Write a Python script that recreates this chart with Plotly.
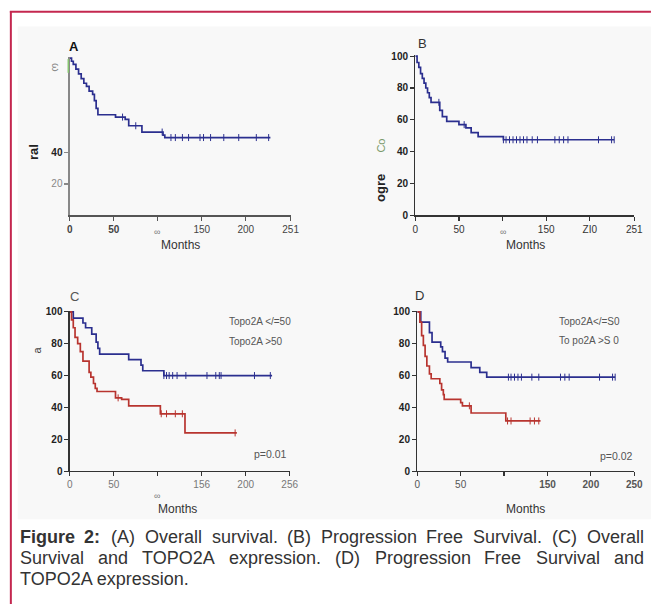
import plotly.graph_objects as go

W, H = 657, 605
FONT = "Liberation Sans, Arial, sans-serif"
BLUE = "#2b2f8f"
RED = "#b8342f"

# ---------------- data (months, survival %) ----------------
A_time = [0, 2, 4, 7, 10, 13, 16, 19, 22, 26, 28, 30, 32, 52, 63, 67, 82, 106, 108]
A_surv = [100, 98, 96, 93, 90, 87, 84, 82, 79, 77, 73, 68, 64, 62.5, 61, 57, 53, 51, 49.5]
A_end = 228
A_cens = [60, 75, 105, 115, 120, 128, 135, 148, 152, 160, 175, 192, 212, 226]

B_time = [0, 2, 4, 6, 8, 10, 12, 14, 16, 18, 28, 31, 36, 50, 58, 64, 72, 101]
B_surv = [100, 96, 93, 89, 86, 83, 80, 77, 74, 71, 66, 62, 59, 57, 55, 52, 49.5, 47.5]
B_end = 228
B_cens = [27, 56, 101, 104, 108, 112, 116, 120, 124, 128, 134, 140, 160, 165, 170, 175, 210, 225, 228]

C_low_time = [0, 4, 15, 18, 25, 30, 32, 34, 67, 81, 83, 107]
C_low_surv = [100, 96, 93, 90, 86, 81, 77, 73.5, 70, 66.5, 63, 60]
C_low_end = 230
C_low_cens = [107, 110, 113, 117, 122, 132, 156, 166, 170, 172, 210, 228]

C_high_time = [0, 2, 4, 6, 9, 12, 15, 22, 24, 27, 29, 31, 52, 59, 67, 103, 131]
C_high_surv = [100, 95, 90, 84, 80, 75, 69, 62, 59, 55, 52, 50, 46, 45, 41, 36, 24]
C_high_end = 190
C_high_cens = [55, 104, 110, 120, 128, 188]

D_low_time = [0, 4, 14, 17, 27, 29, 32, 35, 62, 72, 80]
D_low_surv = [100, 93.5, 87, 81, 78, 75, 71, 68.5, 65, 62, 59]
D_low_end = 228
D_low_cens = [105, 108, 112, 116, 120, 132, 140, 165, 170, 175, 210, 225, 228]

D_high_time = [0, 3, 5, 7, 9, 11, 14, 16, 26, 28, 30, 31, 50, 52, 62, 102]
D_high_surv = [100, 93.5, 85, 79, 72, 66, 61, 58, 55, 51, 48, 45, 43, 41, 36.5, 31.5]
D_high_end = 142
D_high_cens = [60, 104, 108, 130, 135, 140]

A_xticks = ["<b>0</b>", "<b>50</b>", "", "150", "200", "251"]
B_xticks = ["0", "50", "", "150", "ZI0", "251"]
C_xticks = ["0", "50", "", "156", "200", "256"]
D_xticks = ["0", "50", "", "<b>150</b>", "<b>200</b>", "<b>250</b>"]
AB_xvals = [0, 50, 100, 150, 200, 251]
CD_xvals = [0, 50, 100, 150, 200, 250]
Y_vals = [0, 20, 40, 60, 80, 100]

C_legend = ["Topo2A </=50", "Topo2A >50"]
D_legend = ["Topo2A</=S0", "To po2A >S 0"]
C_p = "p=0.01"
D_p = "p=0.02"

caption_lines = [
    [("Figure", True), ("2:", True), ("(A)", False), ("Overall", False), ("survival.", False),
     ("(B)", False), ("Progression", False), ("Free", False), ("Survival.", False),
     ("(C)", False), ("Overall", False)],
    [("Survival", False), ("and", False), ("TOPO2A", False), ("expression.", False),
     ("(D)", False), ("Progression", False), ("Free", False), ("Survival", False), ("and", False)],
    [("TOPO2A expression.", False)],
]

# ---------------- helpers ----------------
def step_xy(times, surv, end):
    return times + [end], surv + [surv[-1]]

def value_at(times, surv, t):
    v = surv[0]
    for ti, si in zip(times, surv):
        if ti <= t:
            v = si
    return v

def px(x):
    return x / W

def py(y):
    return 1 - y / H

fig = go.Figure()

def add_curve(times, surv, end, cens, color, ax):
    x, y = step_xy(times, surv, end)
    fig.add_trace(go.Scatter(x=x, y=y, mode="lines", line=dict(color=color, width=1.7, shape="hv"),
                             xaxis="x" + ax, yaxis="y" + ax, showlegend=False, hoverinfo="skip"))
    fig.add_trace(go.Scatter(x=cens, y=[value_at(times, surv, c) for c in cens], mode="markers",
                             marker=dict(symbol="line-ns-open", size=5, color=color,
                                         line=dict(color=color, width=1)),
                             xaxis="x" + ax, yaxis="y" + ax, showlegend=False, hoverinfo="skip"))

add_curve(A_time, A_surv, A_end, A_cens, BLUE, "")
add_curve(B_time, B_surv, B_end, B_cens, BLUE, "2")
add_curve(C_low_time, C_low_surv, C_low_end, C_low_cens, BLUE, "3")
add_curve(C_high_time, C_high_surv, C_high_end, C_high_cens, RED, "3")
add_curve(D_low_time, D_low_surv, D_low_end, D_low_cens, BLUE, "4")
add_curve(D_high_time, D_high_surv, D_high_end, D_high_cens, RED, "4")

YTOP = 100.8

def xaxis(x0, x1, rng, vals, text, color, anchor, lc="#333"):
    return dict(domain=[px(x0), px(x1)], range=rng, tickvals=vals, ticktext=text,
                showline=True, linecolor=lc, linewidth=1.3, ticks="outside", ticklen=4,
                tickcolor=lc, tickwidth=1.2, showgrid=False, zeroline=False,
                tickfont=dict(family=FONT, size=10, color=color), anchor=anchor, fixedrange=True)

def yaxis(y0, y100, vals, text, color, anchor, lc="#333"):
    top = y0 - (y0 - y100) * YTOP / 100
    return dict(domain=[py(y0), py(top)], range=[0, YTOP], tickvals=vals, ticktext=text,
                showline=True, linecolor=lc, linewidth=1.3, ticks="outside", ticklen=4,
                tickcolor=lc, tickwidth=1.2, showgrid=False, zeroline=False,
                tickfont=dict(family=FONT, size=10, color=color), anchor=anchor, fixedrange=True)

bold_y = ["<b>%d</b>" % v for v in Y_vals]

fig.update_layout(
    width=W, height=H, margin=dict(l=0, r=0, t=0, b=0),
    paper_bgcolor="white", plot_bgcolor="rgba(0,0,0,0)", hovermode=False,
    xaxis=xaxis(68, 293, [0, 251], AB_xvals, A_xticks, "#444", "y", lc="#555"),
    yaxis=yaxis(215, 55, [20, 40], ["<span style='color:#888'>20</span>", "<b>40</b>"], "#222", "x", lc="#888"),
    xaxis2=xaxis(420, 643, [0, 251], AB_xvals, B_xticks, "#333", "y2"),
    yaxis2=yaxis(215, 53, Y_vals, bold_y, "#222", "x2"),
    xaxis3=xaxis(68, 292, [0, 250], CD_xvals, C_xticks, "#777", "y3"),
    yaxis3=yaxis(475, 313, Y_vals, bold_y, "#222", "x3"),
    xaxis4=xaxis(422, 643, [0, 250], CD_xvals, D_xticks, "#555", "y4"),
    yaxis4=yaxis(475, 313, Y_vals, bold_y, "#222", "x4"),
)

shapes = [
    dict(type="rect", xref="paper", yref="paper", x0=px(15), x1=px(660), y0=py(524), y1=py(23),
         fillcolor="#f8f8f8", line=dict(width=0), layer="below"),
    dict(type="line", xref="paper", yref="paper", x0=px(7), x1=px(660), y0=py(8), y1=py(8),
         line=dict(color="#c4274f", width=2)),
    dict(type="line", xref="paper", yref="paper", x0=px(8), x1=px(8), y0=py(7), y1=py(610),
         line=dict(color="#c4274f", width=2)),
    dict(type="line", xref="paper", yref="paper", x0=px(66.5), x1=px(66.5), y0=py(56), y1=py(70),
         line=dict(color="#86c46f", width=1.5)),
]
fig.update_layout(shapes=shapes)

ann = []

def text(x, y, s, size=10, color="#333", angle=0, xanchor="center", yanchor="middle", bold=False):
    if bold:
        s = "<b>" + s + "</b>"
    ann.append(dict(x=px(x), y=py(y), xref="paper", yref="paper", text=s, showarrow=False,
                    textangle=angle, xanchor=xanchor, yanchor=yanchor, borderpad=0,
                    font=dict(family=FONT, size=size, color=color)))

# panel letters
text(72, 43, "A", 13, "#111", bold=True)
text(427, 40, "B", 13, "#333")
text(73, 297, "C", 13, "#555")
text(424, 296, "D", 13, "#333")

# y-axis titles / garbled marks
text(31, 150, "ral", 13, "#222", angle=-90, bold=True)
text(54, 64, "ω", 11, "#888", angle=90)
text(385, 187, "ogre", 13, "#222", angle=-90, bold=True)
text(385, 144, "Cо", 11, "#7a9a6a", angle=-90)
text(35, 352, "a", 11, "#444", angle=-90)

# x titles
text(181, 245, "Months", 12, "#333")
text(157, 232, "∞", 9, "#777")
text(532, 245, "Months", 12, "#333")
text(509, 232, "∞", 9, "#777")
text(178, 513, "Months", 12, "#333")
text(157, 500, "∞", 9, "#777")
text(532, 513, "Months", 12, "#333")

# legends and p-values
text(229, 323, C_legend[0], 10, "#555", xanchor="left")
text(229, 343, C_legend[1], 10, "#555", xanchor="left")
text(290, 458, C_p, 10.5, "#555", xanchor="right")
text(565, 323, D_legend[0], 10, "#555", xanchor="left")
text(565, 342, D_legend[1], 10, "#555", xanchor="left")
text(643, 460, D_p, 10.5, "#555", xanchor="right")

# caption (justified)
AR = {' ': 278, '(': 333, ')': 333, '.': 278, ':': 278, '2': 556, 'A': 667, 'B': 667, 'C': 722,
      'D': 722, 'F': 611, 'O': 778, 'P': 667, 'S': 667, 'T': 611, 'a': 556, 'd': 556, 'e': 556,
      'g': 556, 'i': 222, 'l': 222, 'n': 556, 'o': 556, 'p': 556, 'r': 333, 's': 500, 'u': 556,
      'v': 500, 'x': 500}
ARB = {'F': 611, 'i': 278, 'g': 611, 'u': 611, 'r': 389, 'e': 556, ' ': 278, '2': 556, ':': 333}
CAP = 18
LEFT, RIGHT = 16, 651
line_y = [542, 563.5, 585]

def wwidth(w, bold):
    tab = ARB if bold else AR
    return sum(tab.get(c, 556) for c in w) * CAP / 1000

for i, words in enumerate(caption_lines):
    widths = [wwidth(w, b) for w, b in words]
    if i < 2:
        gap = (RIGHT - LEFT - sum(widths)) / (len(words) - 1)
    else:
        gap = 0
    x = LEFT
    for (w, b), wd in zip(words, widths):
        text(x, line_y[i], w, CAP, "#333", xanchor="left", bold=b)
        x += wd + gap

fig.update_layout(annotations=ann)
fig.write_html("out.html", config={"displayModeBar": False, "staticPlot": True},
               post_script="document.body.style.margin='0';document.body.style.overflow='hidden';")
